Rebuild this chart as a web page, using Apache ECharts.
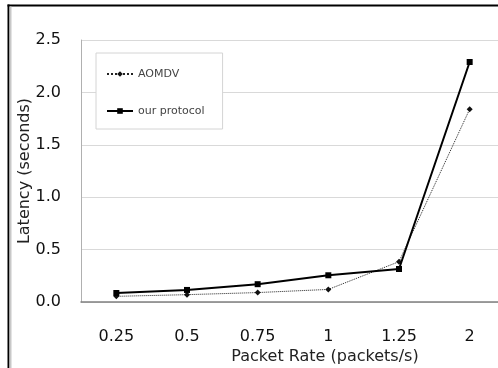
<!DOCTYPE html>
<html>
<head>
<meta charset="utf-8">
<script src="https://cdn.jsdelivr.net/npm/echarts@6/dist/echarts.min.js"></script>
<style>
  html, body { margin: 0; padding: 0; background: #fff; }
  #chart { width: 498px; height: 368px; }
</style>
</head>
<body>
<div id="chart"></div>
<script>
// packet rates on the x axis
const categories = ['0.25', '0.5', '0.75', '1', '1.25', '2'];
// latency (s)
const aomdv = [0.054, 0.07, 0.09, 0.12, 0.385, 1.84];
const ourProtocol = [0.086, 0.115, 0.17, 0.255, 0.315, 2.29];
const seriesNames = ['AOMDV', 'our protocol'];

const fontFamily = 'DejaVu Sans';

const myChart = echarts.init(document.getElementById('chart'));

const option = {
  animation: false,
  backgroundColor: '#fff',
  textStyle: { fontFamily: fontFamily },
  // outer frame of the original figure (top and left edges only are visible)
  graphic: [
    {
      type: 'rect',
      shape: { x: 7.5, y: 4.5, width: 492, height: 2 },
      style: { fill: '#000' },
      silent: true,
    },
    {
      type: 'rect',
      shape: { x: 7.5, y: 4.5, width: 2, height: 364 },
      style: { fill: '#000' },
      silent: true,
    },
    {
      type: 'rect',
      shape: { x: 9.5, y: 6.5, width: 2, height: 362 },
      style: { fill: '#c8c8c8' },
      silent: true,
    },
  ],
  grid: {
    left: 81,
    top: 40,
    width: 424,
    height: 262,
    outerBoundsMode: 'none',
  },
  legend: {
    orient: 'vertical',
    left: 96,
    top: 53,
    data: seriesNames,
    backgroundColor: '#fff',
    borderColor: '#d4d4d4',
    borderWidth: 1,
    padding: [14, 18, 11, 10],
    itemGap: 23,
    itemWidth: 26,
    itemHeight: 7,
    textStyle: {
      fontSize: 11,
      lineHeight: 14,
      color: '#444',
      fontFamily: fontFamily,
    },
  },
  xAxis: {
    type: 'category',
    data: categories,
    boundaryGap: true,
    name: 'Packet Rate (packets/s)',
    nameLocation: 'middle',
    nameGap: 47,
    nameMoveOverlap: false,
    nameTextStyle: { fontSize: 16, color: '#222', padding: [0, 0, 0, 64] },
    axisTick: { show: false },
    axisLine: { show: true, lineStyle: { color: '#808080', width: 1.5 } },
    axisLabel: { fontSize: 16, color: '#111', margin: 27 },
    splitLine: { show: false },
  },
  yAxis: {
    type: 'value',
    min: 0,
    max: 2.5,
    interval: 0.5,
    name: 'Latency (seconds)',
    nameLocation: 'middle',
    nameGap: 48,
    nameMoveOverlap: false,
    nameTextStyle: { fontSize: 16, color: '#222' },
    axisTick: { show: false },
    axisLine: { show: true, lineStyle: { color: '#b0b0b0', width: 1 } },
    axisLabel: {
      fontSize: 16,
      color: '#111',
      margin: 20,
      formatter: v => v.toFixed(1),
    },
    splitLine: { show: true, lineStyle: { color: '#d9d9d9', width: 1 } },
  },
  series: [
    {
      name: seriesNames[0],
      type: 'line',
      data: aomdv,
      symbol: 'diamond',
      symbolSize: 6,
      itemStyle: { color: '#111' },
      lineStyle: { color: '#222', width: 1, type: 'dotted' },
      z: 2,
    },
    {
      name: seriesNames[1],
      type: 'line',
      data: ourProtocol,
      symbol: 'rect',
      symbolSize: 6,
      itemStyle: { color: '#000' },
      lineStyle: { color: '#000', width: 2 },
      z: 3,
    },
  ],
};

myChart.setOption(option);
</script>
</body>
</html>
